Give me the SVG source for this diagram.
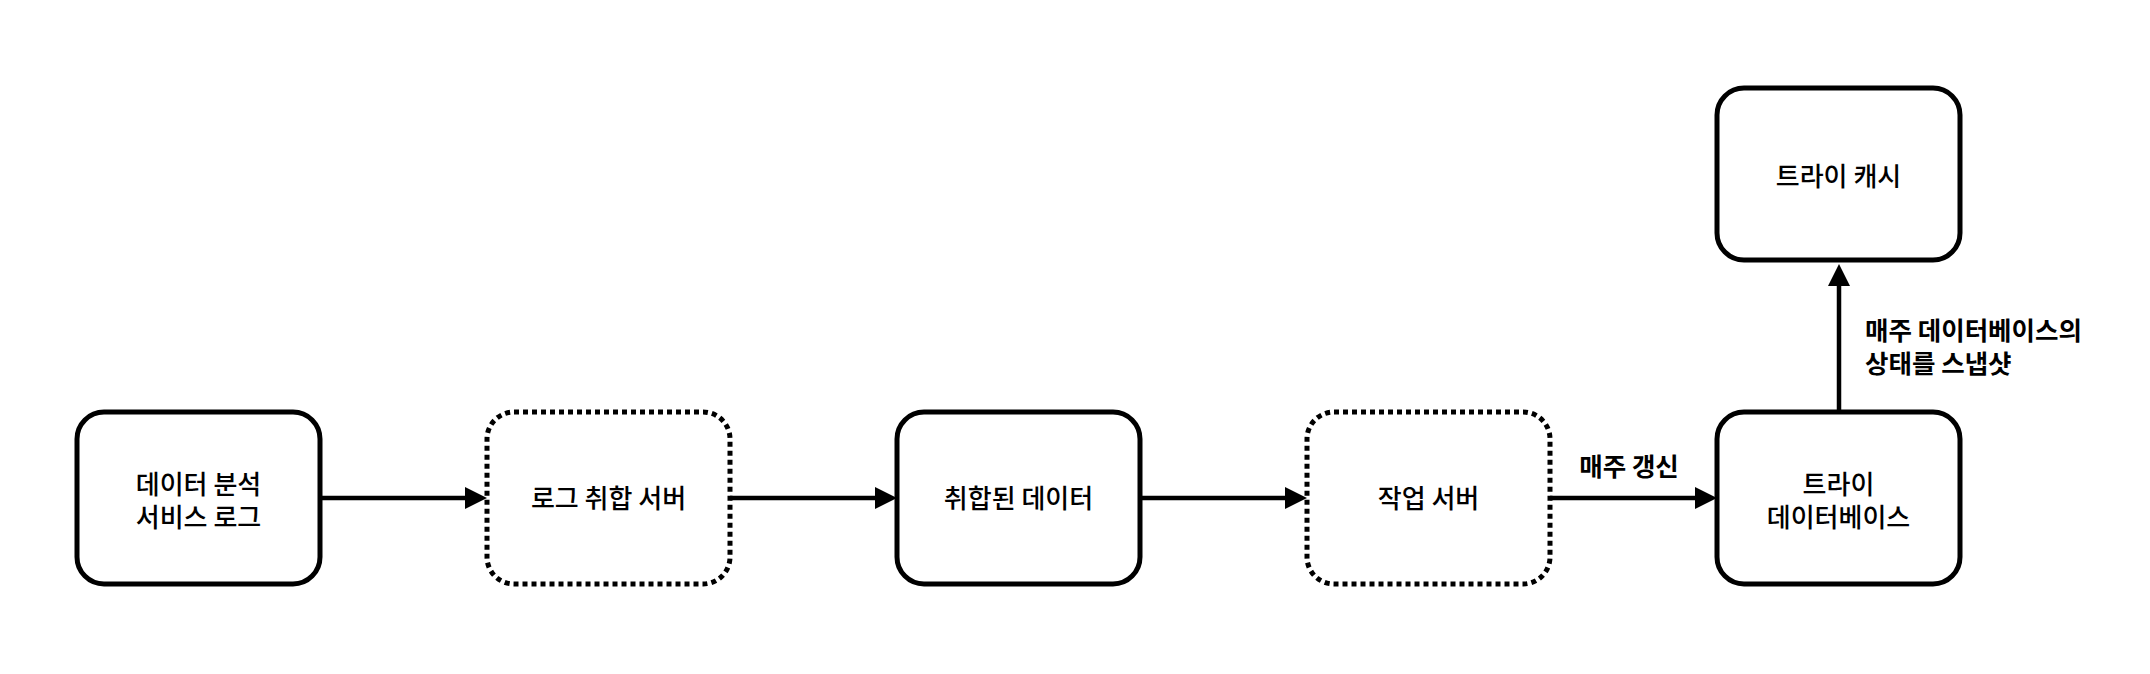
<svg xmlns="http://www.w3.org/2000/svg" width="2150" height="674" viewBox="0 0 2150 674">
  <style>
    .box { fill: #ffffff; stroke: #000000; stroke-width: 5; }
    .dot { stroke-dasharray: 5 4; }
    .conn { fill: none; stroke: #000000; stroke-width: 4.5; }
    .t { font-family: "Noto Sans CJK KR", "Noto Sans", sans-serif; font-size: 26px; font-weight: 500; fill: #000000; text-anchor: middle; }
    .lbl { font-family: "Noto Sans CJK KR", "Noto Sans", sans-serif; font-size: 25.5px; font-weight: bold; fill: #000000; }
  </style>
  <defs>
    <marker id="arrow" markerUnits="userSpaceOnUse" markerWidth="22" markerHeight="22" refX="1" refY="11" orient="auto">
      <path d="M0,0 L22,11 L0,22 z" fill="#000000"/>
    </marker>
  </defs>
  <rect width="2150" height="674" fill="#ffffff"/>

  <g id="connectors">
    <path class="conn" d="M320,498 L466,498" marker-end="url(#arrow)"/>
    <path class="conn" d="M730,498 L876,498" marker-end="url(#arrow)"/>
    <path class="conn" d="M1140,498 L1286,498" marker-end="url(#arrow)"/>
    <path class="conn" d="M1550,498 L1696,498" marker-end="url(#arrow)"/>
    <path class="conn" d="M1839,412 L1839,285" marker-end="url(#arrow)"/>
    <text class="lbl" x="1629" y="476" text-anchor="middle">매주 갱신</text>
    <text class="lbl" x="1865" y="340">매주 데이터베이스의</text>
    <text class="lbl" x="1865" y="373">상태를 스냅샷</text>
  </g>

  <g id="node-log">
    <rect class="box" x="77" y="412" width="243" height="172" rx="27" ry="27"/>
    <text class="t" x="198.5" y="494">데이터 분석</text>
    <text class="t" x="198.5" y="527">서비스 로그</text>
  </g>
  <g id="node-aggregator">
    <rect class="box dot" x="487" y="412" width="243" height="172" rx="27" ry="27"/>
    <text class="t" x="608.5" y="508">로그 취합 서버</text>
  </g>
  <g id="node-aggregated">
    <rect class="box" x="897" y="412" width="243" height="172" rx="27" ry="27"/>
    <text class="t" x="1018.5" y="508">취합된 데이터</text>
  </g>
  <g id="node-job">
    <rect class="box dot" x="1307" y="412" width="243" height="172" rx="27" ry="27"/>
    <text class="t" x="1428.5" y="508">작업 서버</text>
  </g>
  <g id="node-triedb">
    <rect class="box" x="1717" y="412" width="243" height="172" rx="27" ry="27"/>
    <text class="t" x="1838.5" y="494">트라이</text>
    <text class="t" x="1838.5" y="527">데이터베이스</text>
  </g>
  <g id="node-triecache">
    <rect class="box" x="1717" y="88" width="243" height="172" rx="27" ry="27"/>
    <text class="t" x="1838.5" y="186">트라이 캐시</text>
  </g>
</svg>
